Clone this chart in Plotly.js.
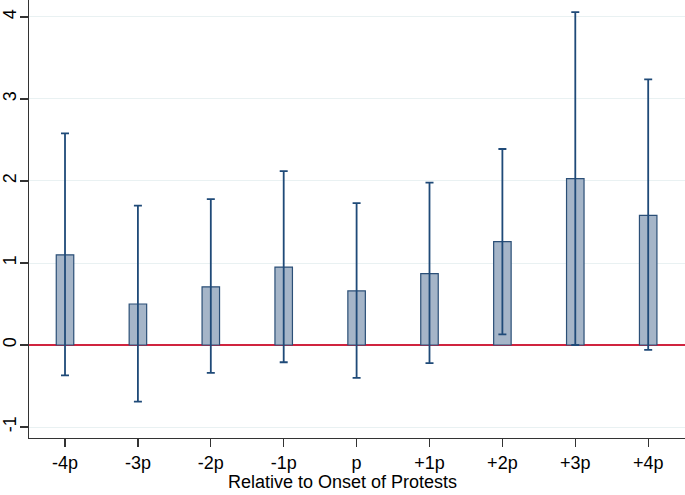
<!DOCTYPE html>
<html>
<head>
<meta charset="utf-8">
<script src="https://cdn.plot.ly/plotly-3.0.1.min.js"></script>
<style>html,body{margin:0;padding:0;background:#fff;}#chart{width:685px;height:495px;}</style>
</head>
<body>
<div id="chart"></div>
<script>
const categories = ["-4p", "-3p", "-2p", "-1p", "p", "+1p", "+2p", "+3p", "+4p"];
const estimates = [1.10, 0.50, 0.71, 0.95, 0.66, 0.87, 1.26, 2.03, 1.58];
const upperCI = [2.58, 1.70, 1.78, 2.12, 1.73, 1.98, 2.39, 4.06, 3.24];
const lowerCI = [-0.37, -0.69, -0.34, -0.21, -0.40, -0.22, 0.13, 0.00, -0.06];
const yTicks = [-1, 0, 1, 2, 3, 4];
const xTitle = "Relative to Onset of Protests";

const errPlus = upperCI.map((u, i) => u - estimates[i]);
const errMinus = lowerCI.map((l, i) => estimates[i] - l);

const trace = {
  type: "bar",
  x: categories,
  y: estimates,
  width: 0.24,
  marker: { color: "#a5b5c8", line: { color: "#2b4f77", width: 1.2 } },
  error_y: {
    type: "data",
    symmetric: false,
    array: errPlus,
    arrayminus: errMinus,
    color: "#1f4a78",
    thickness: 1.8,
    width: 4
  },
  hoverinfo: "skip"
};

const layout = {
  width: 685,
  height: 495,
  margin: { l: 29, r: 0, t: 0, b: 57, pad: 0 },
  paper_bgcolor: "#ffffff",
  plot_bgcolor: "#ffffff",
  showlegend: false,
  font: { family: "Liberation Sans, Arial, sans-serif", color: "#000" },
  xaxis: {
    type: "category",
    range: [-0.494, 8.505],
    showline: true,
    linecolor: "#333",
    linewidth: 1.3,
    ticks: "outside",
    ticklen: 8,
    tickcolor: "#333",
    tickwidth: 1.3,
    showgrid: false,
    tickfont: { size: 18, color: "#000" }
  },
  yaxis: {
    range: [-1.134, 4.207],
    tickvals: yTicks,
    ticktext: yTicks.map(String),
    tickangle: -90,
    showline: true,
    linecolor: "#333",
    linewidth: 1.3,
    ticks: "outside",
    ticklen: 8,
    tickcolor: "#333",
    tickwidth: 1.3,
    ticklabelstandoff: -3,
    showgrid: true,
    gridcolor: "#e9f1f2",
    gridwidth: 1,
    zeroline: true,
    zerolinecolor: "#d0243f",
    zerolinewidth: 1.5,
    tickfont: { size: 18, color: "#000" }
  },
  annotations: [{
    text: xTitle,
    xref: "paper", yref: "paper",
    x: 0.4779, y: -0.1275,
    xanchor: "center", yanchor: "bottom",
    showarrow: false,
    font: { size: 18, color: "#000" }
  }]
};

Plotly.newPlot("chart", [trace], layout, { displayModeBar: false, staticPlot: true });
</script>
</body>
</html>
